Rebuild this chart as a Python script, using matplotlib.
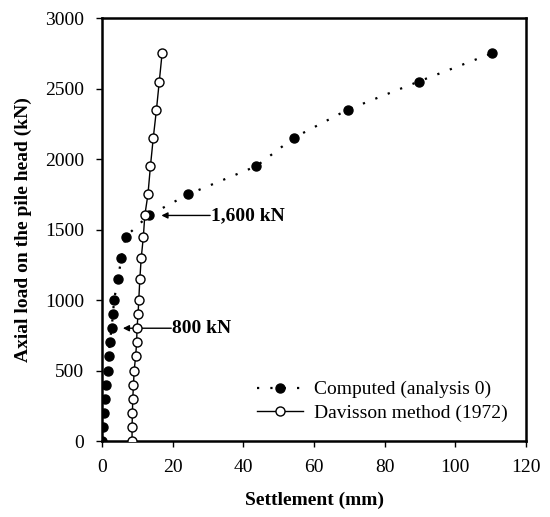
import matplotlib
matplotlib.use("Agg")
import matplotlib.pyplot as plt

plt.rcParams['font.family'] = ['Liberation Serif', 'DejaVu Serif']

# axial load steps (kN)
loads = [0, 100, 200, 300, 400, 500, 600, 700, 800, 900, 1000,
         1150, 1300, 1450, 1600, 1750, 1950, 2150, 2350, 2550, 2750]

# computed settlement (mm), analysis 0
computed = [0.0, 0.3, 0.5, 0.8, 1.0, 1.7, 1.9, 2.2, 2.7, 3.1, 3.4,
            4.5, 5.5, 6.7, 13.2, 24.4, 43.7, 54.2, 69.5, 89.6, 110.3]

# Davisson (1972) offset line (mm)
davisson = [8.5, 8.5, 8.6, 8.7, 8.9, 9.1, 9.5, 9.8, 9.9, 10.2, 10.4,
            10.7, 11.1, 11.7, 12.1, 13.0, 13.7, 14.5, 15.4, 16.2, 17.0]

fig = plt.figure(figsize=(5.5, 5.17), dpi=100)
ax = fig.add_axes([0.1855, 0.147, 0.771, 0.818])

ax.plot(computed, loads, color='black', linestyle=(0, (1, 5)), linewidth=1.6,
        marker='o', markersize=6.5, markerfacecolor='black', markeredgecolor='black',
        label='Computed (analysis 0)', zorder=3)
ax.plot(davisson, loads, color='black', linestyle='-', linewidth=1.0,
        marker='o', markersize=6.5, markerfacecolor='white', markeredgecolor='black',
        markeredgewidth=1.0, label='Davisson method (1972)', zorder=4)

ax.set_xlim(0, 120)
ax.set_ylim(0, 3000)
ax.set_xticks([0, 20, 40, 60, 80, 100, 120])
ax.set_yticks([0, 500, 1000, 1500, 2000, 2500, 3000])

for s in ax.spines.values():
    s.set_linewidth(1.8)
ax.tick_params(axis='both', direction='out', length=4, width=1.0, labelsize=14)
ax.tick_params(axis='y', pad=9)
ax.tick_params(axis='x', pad=9)

ax.set_xlabel('Settlement (mm)', fontsize=14, fontweight='bold', labelpad=11)
ax.set_ylabel('Axial load on the pile head (kN)', fontsize=14, fontweight='bold', labelpad=9)

arrow = dict(arrowstyle='-|>', color='black', lw=1.0, mutation_scale=9, shrinkA=0, shrinkB=0)
ax.annotate('', xy=(16.8, 1600), xytext=(30.6, 1600), arrowprops=arrow)
ax.text(30.8, 1600, '1,600 kN', fontsize=14, fontweight='bold', va='center', ha='left')
ax.annotate('', xy=(5.9, 800), xytext=(19.6, 800), arrowprops=arrow)
ax.text(19.8, 800, '800 kN', fontsize=14, fontweight='bold', va='center', ha='left')

ax.legend(loc='lower left', bbox_to_anchor=(0.365, 0.045), frameon=False, fontsize=14,
          handlelength=2.4, handletextpad=0.55, labelspacing=0.3, borderpad=0,
          borderaxespad=0)

fig.savefig('out.png', dpi=100)
